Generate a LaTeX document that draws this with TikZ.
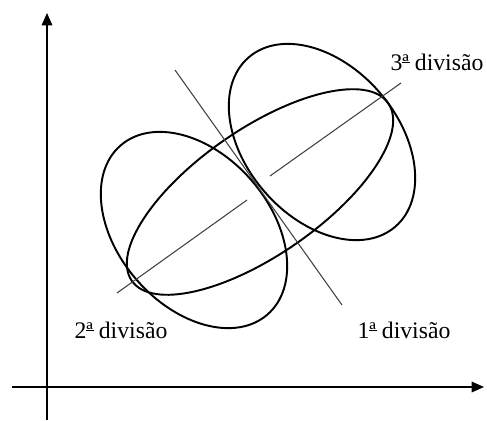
\documentclass[tikz,border=0pt]{standalone}
\usepackage{fontspec}
\setmainfont{Liberation Serif}
\usetikzlibrary{arrows.meta}

% ordinal with its underline
\newcommand{\ordinal}{\makebox[0pt][l]{\rule[0.3em]{0.3em}{0.05em}}ª}

\begin{document}
\begin{tikzpicture}[x=0.02cm, y=-0.02cm,
    axis/.style={line width=0.85pt, -{Triangle[length=7pt, width=6pt]}},
    cluster/.style={line width=1.1pt},
    cut/.style={line width=0.6pt, black!75},
    lbl/.style={font=\fontsize{13.5}{16}\selectfont, inner sep=0pt}]
  \useasboundingbox (0,0) rectangle (487,420);

  % Axes
  \draw[axis] (47,420) -- (47,13);
  \draw[axis] (12,387) -- (484,387);

  % Whole cluster
  \draw[cluster] (260,192) circle [x radius=3.12cm, y radius=1.26cm, rotate=34.7];

  % Sub-clusters
  \draw[cluster] (194,230) circle [x radius=2.24cm, y radius=1.52cm, rotate=-49];
  \draw[cluster] (322,142) circle [x radius=2.24cm, y radius=1.52cm, rotate=-49];

  % Division lines
  \draw[cut] (175,70) -- (342,305);
  \draw[cut] (117,293) -- (247,200);
  \draw[cut] (270,176) -- (401,83);

  % Labels
  \node[lbl] (div1) at (404,330) {1\ordinal{} divisão};
  \node[lbl] (div2) at (121,330) {2\ordinal{} divisão};
  \node[lbl] (div3) at (437,62)  {3\ordinal{} divisão};
\end{tikzpicture}
\end{document}
